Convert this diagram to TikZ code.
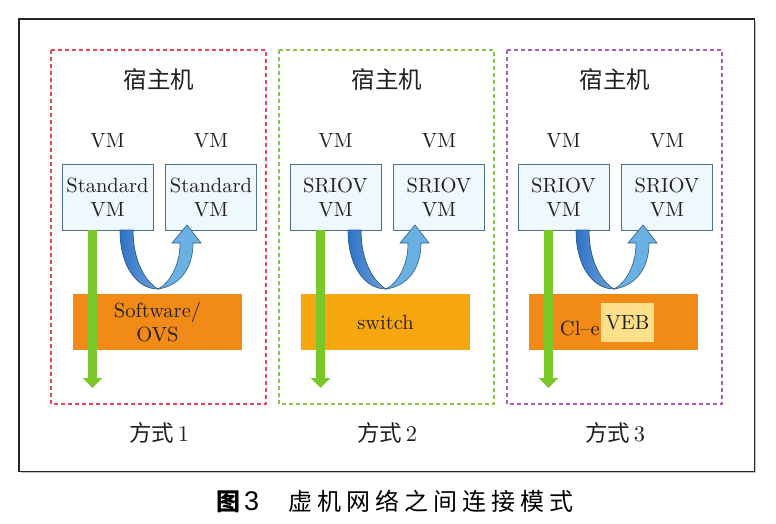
\documentclass[tikz,border=0pt]{standalone}
\usepackage{fontspec}
\setmainfont{lmroman10-regular}[Extension=.otf]
\newfontfamily\cjk{Noto Sans CJK SC}
\newfontfamily\capsans{Liberation Sans}
\usetikzlibrary{arrows.meta,calc}
\definecolor{txt}{HTML}{231F20}
\definecolor{redd}{HTML}{E94653}
\definecolor{greend}{HTML}{86C447}
\definecolor{purpled}{HTML}{A55DB8}
\definecolor{vmfill}{HTML}{EFF8FD}
\definecolor{vmline}{HTML}{4F7088}
\definecolor{orangeA}{HTML}{F28A17}
\definecolor{orangeB}{HTML}{F6A70F}
\definecolor{vebfill}{HTML}{FEE08B}
\definecolor{greenarr}{HTML}{7AC72A}
\definecolor{blueA}{HTML}{2F73C5}
\definecolor{blueB}{HTML}{6E9FDC}
\definecolor{blueC}{HTML}{6BB0E3}
\definecolor{blueline}{HTML}{2E5F88}
\tikzset{
  panelbox/.style={draw=#1, line width=1.2pt, dash pattern=on 4pt off 3pt},
  vmbox/.style={draw=vmline, fill=vmfill, line width=0.8pt, minimum width=91pt, minimum height=66pt, inner sep=0pt, align=center, text=txt, font=\fontsize{20.5}{24}\selectfont},
  vmlabel/.style={text=txt, inner sep=0pt, font=\fontsize{20.5}{24}\selectfont},
  hostlabel/.style={text=txt, inner sep=0pt, font=\cjk\fontsize{23.5}{26}\selectfont},
  modelabel/.style={text=txt, inner sep=0pt, font=\fontsize{22.5}{26}\selectfont},
  barbox/.style={fill=#1, minimum width=169pt, minimum height=56pt, inner sep=0pt, align=center, text=txt, font=\fontsize{20.5}{24}\selectfont},
  greenarrow/.style={draw=greenarr, line width=9pt, -{Triangle[width=19pt,length=10pt]}},
  ribbonL/.style={left color=blueA, right color=blueB, draw=blueline, line width=0.6pt},
  ribbonR/.style={fill=blueC, draw=blueline, line width=0.6pt},
}
\begin{document}
\begin{tikzpicture}[x=1pt,y=-1pt]
\useasboundingbox (0,0) rectangle (776,523);
\fill[white] (0,0) rectangle (776,523);
% outer frame
\draw[gray!45, line width=1pt] (21,472.8) -- (755.8,472.8) -- (755.8,21);
\draw[black!85, line width=1.3pt] (19,19) rectangle (754.5,471.5);

% ---------- panel 1 ----------
\begin{scope}
\draw[panelbox=redd] (51,50) rectangle (266,404);
\node[hostlabel] (h1) at (159,80) {宿主机};
\node[vmlabel] (l1a) at (107.5,141) {VM};
\node[vmlabel] (l1b) at (211,141) {VM};
\node[barbox=orangeA] (b1) at (157.5,322) {Software/\\OVS};
\node[vmbox] (v1a) at (107.5,197) {Standard\\VM};
\node[vmbox] (v1b) at (211,197) {Standard\\VM};
\coordinate (g1) at (92.5,388);
\draw[greenarrow] (v1a.south -| g1) -- (g1);
\fill[ribbonL] (120,230) .. controls (120,268) and (138,289) .. (158,289) .. controls (146,282) and (133,262) .. (133,230) -- cycle;
\filldraw[ribbonR] (158,289) .. controls (180,286) and (193,268) .. (193,243) -- (201,243) -- (187,225) -- (172,243) -- (180,243) .. controls (180,265) and (170,283) .. (158,289) -- cycle;
\node[modelabel] (m1) at (159,433) {{\cjk 方式}\,1};
\end{scope}

% ---------- panel 2 ----------
\begin{scope}[xshift=228pt]
\draw[panelbox=greend] (51,50) rectangle (266,404);
\node[hostlabel] (h2) at (159,80) {宿主机};
\node[vmlabel] (l2a) at (107.5,141) {VM};
\node[vmlabel] (l2b) at (211,141) {VM};
\node[barbox=orangeB] (b2) at (157.5,322) {switch};
\node[vmbox] (v2a) at (107.5,197) {SRIOV\\VM};
\node[vmbox] (v2b) at (211,197) {SRIOV\\VM};
\coordinate (g2) at (92.5,388);
\draw[greenarrow] (v2a.south -| g2) -- (g2);
\fill[ribbonL] (120,230) .. controls (120,268) and (138,289) .. (158,289) .. controls (146,282) and (133,262) .. (133,230) -- cycle;
\filldraw[ribbonR] (158,289) .. controls (180,286) and (193,268) .. (193,243) -- (201,243) -- (187,225) -- (172,243) -- (180,243) .. controls (180,265) and (170,283) .. (158,289) -- cycle;
\node[modelabel] (m2) at (159,433) {{\cjk 方式}\,2};
\end{scope}

% ---------- panel 3 ----------
\begin{scope}[xshift=456pt]
\draw[panelbox=purpled] (51,50) rectangle (266,404);
\node[hostlabel] (h3) at (159,80) {宿主机};
\node[vmlabel] (l3a) at (107.5,141) {VM};
\node[vmlabel] (l3b) at (211,141) {VM};
\node[barbox=orangeA] (b3) at (157.5,322) {};
\node[fill=vebfill, minimum width=53pt, minimum height=39pt, inner sep=0pt, text=txt, font=\fontsize{20.5}{24}\selectfont] (veb) at (171.5,322.5) {VEB};
\node[vmbox] (v3a) at (107.5,197) {SRIOV\\VM};
\node[vmbox] (v3b) at (211,197) {SRIOV\\VM};
\coordinate (g3) at (92.5,388);
\draw[greenarrow] (v3a.south -| g3) -- (g3);
\node[anchor=base east, inner sep=0pt, text=txt, font=\fontsize{20.5}{24}\selectfont] (cle) at (144,335) {Cl–e};
\fill[ribbonL] (120,230) .. controls (120,268) and (138,289) .. (158,289) .. controls (146,282) and (133,262) .. (133,230) -- cycle;
\filldraw[ribbonR] (158,289) .. controls (180,286) and (193,268) .. (193,243) -- (201,243) -- (187,225) -- (172,243) -- (180,243) .. controls (180,265) and (170,283) .. (158,289) -- cycle;
\node[modelabel] (m3) at (159,433) {{\cjk 方式}\,3};
\end{scope}

% caption
\node[anchor=west, inner sep=0pt, text=black, font=\fontsize{24}{26}\selectfont] (cap) at (216,501)
  {{\cjk\bfseries 图}\kern4pt{\capsans\fontsize{27}{28}\selectfont 3}\hspace{29pt}{\cjk 虚\kern5pt 机\kern5pt 网\kern5pt 络\kern5pt 之\kern5pt 间\kern5pt 连\kern5pt 接\kern5pt 模\kern5pt 式}};
\end{tikzpicture}
\end{document}
